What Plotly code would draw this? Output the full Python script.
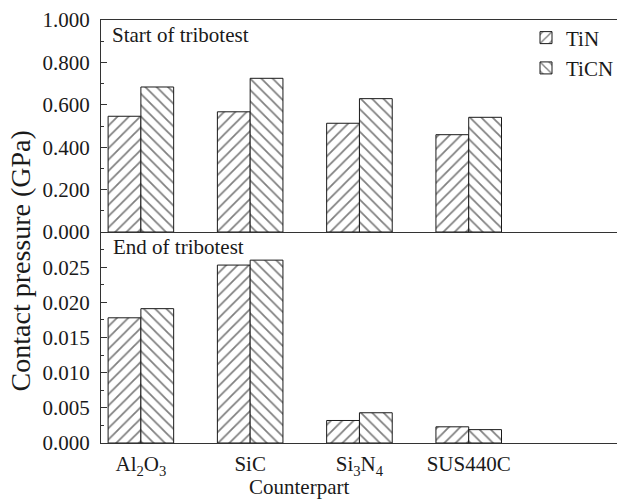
import plotly.graph_objects as go

categories = ["Al<sub>2</sub>O<sub>3</sub>", "SiC", "Si<sub>3</sub>N<sub>4</sub>", "SUS440C"]
series_names = ["TiN", "TiCN"]
start_tin = [0.546, 0.567, 0.513, 0.459]
start_ticn = [0.684, 0.725, 0.629, 0.541]
end_tin = [0.0178, 0.0253, 0.0032, 0.0023]
end_ticn = [0.0191, 0.0260, 0.0043, 0.0019]
top_ticks = [0.0, 0.2, 0.4, 0.6, 0.8, 1.0]
bottom_ticks = [0.0, 0.005, 0.010, 0.015, 0.020, 0.025]

FONT = "'Liberation Serif', 'Times New Roman', 'DejaVu Serif', serif"
INK = "#1a1a1a"
shapes = ["/", "\\"]

fig = go.Figure()
for name, vals, shp in [(series_names[0], start_tin, shapes[0]), (series_names[1], start_ticn, shapes[1])]:
    fig.add_trace(go.Bar(
        x=categories, y=vals, name=name, xaxis="x2", yaxis="y2",
        marker=dict(color="white", line=dict(color=INK, width=1),
                    pattern=dict(shape=shp, fgcolor="black", bgcolor="white", size=8, solidity=0.22)),
        showlegend=True,
    ))
for name, vals, shp in [(series_names[0], end_tin, shapes[0]), (series_names[1], end_ticn, shapes[1])]:
    fig.add_trace(go.Bar(
        x=categories, y=vals, name=name, xaxis="x", yaxis="y",
        marker=dict(color="white", line=dict(color=INK, width=1),
                    pattern=dict(shape=shp, fgcolor="black", bgcolor="white", size=8, solidity=0.22)),
        showlegend=False,
    ))

xr = [-0.365, 4.357]
split = 0.4988
axis_common = dict(showline=True, linecolor="#333", linewidth=1.3, showgrid=False, zeroline=False)

fig.update_layout(
    width=619, height=501,
    margin=dict(l=101, r=0, t=20, b=58),
    paper_bgcolor="white", plot_bgcolor="white",
    font=dict(family=FONT, size=21, color=INK),
    barmode="group", bargap=0.4, bargroupgap=0,
    xaxis=dict(domain=[0, 1], anchor="y", range=xr, ticks="", tickfont=dict(family=FONT, size=21),
               ticklabelstandoff=2, **axis_common),
    yaxis=dict(domain=[0, split], anchor="x", range=[0, 0.030], tickvals=bottom_ticks,
               tickformat=".3f", ticks="inside", ticklen=6, tickcolor="#333",
               tickfont=dict(family=FONT, size=21),
               minor=dict(ticks="inside", ticklen=3, dtick=0.0025, tickcolor="#333"),
               ticklabelstandoff=6, **axis_common),
    xaxis2=dict(domain=[0, 1], anchor="y2", range=xr, showticklabels=False, ticks="",
                mirror=True, **axis_common),
    yaxis2=dict(domain=[split, 1], anchor="x2", range=[0, 1.0], tickvals=top_ticks,
                tickformat=".3f", ticks="inside", ticklen=6, tickcolor="#333",
                tickfont=dict(family=FONT, size=21),
                minor=dict(ticks="inside", ticklen=3, dtick=0.1, tickcolor="#333"),
                ticklabelstandoff=6, **axis_common),
    legend=dict(x=0.824, y=1.006, xanchor="left", yanchor="top", bgcolor="rgba(0,0,0,0)",
                font=dict(family=FONT, size=21), tracegroupgap=0),
    annotations=[
        dict(text="Start of tribotest", xref="paper", yref="paper", x=0.0174, y=0.9645,
             xanchor="left", yanchor="middle", showarrow=False, font=dict(family=FONT, size=21)),
        dict(text="End of tribotest", xref="paper", yref="paper", x=0.0193, y=0.463,
             xanchor="left", yanchor="middle", showarrow=False, font=dict(family=FONT, size=21)),
        dict(text="Contact pressure (GPa)", xref="paper", yref="paper", x=-0.1564, y=0.43,
             xanchor="center", yanchor="middle", textangle=-90, showarrow=False,
             font=dict(family=FONT, size=28)),
        dict(text="Counterpart", xref="paper", yref="paper", x=0.384, y=-0.104,
             xanchor="center", yanchor="middle", showarrow=False, font=dict(family=FONT, size=21)),
    ],
)

fig.write_html("out.html")
